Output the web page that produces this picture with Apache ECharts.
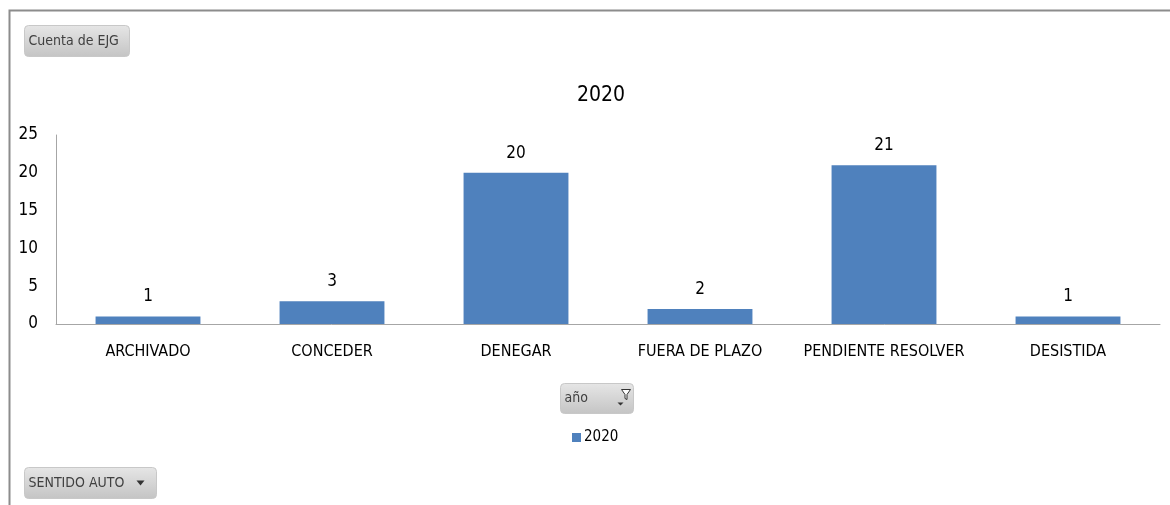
<!DOCTYPE html>
<html>
<head>
<meta charset="utf-8">
<script src="https://cdn.jsdelivr.net/npm/echarts@6/dist/echarts.min.js"></script>
<style>
  html, body { margin: 0; padding: 0; background: #fff; }
  #chart { width: 1170px; height: 505px; }
</style>
</head>
<body>
<div id="chart"></div>
<script>
// datos del gráfico
const categorias = ["ARCHIVADO", "CONCEDER", "DENEGAR", "FUERA DE PLAZO", "PENDIENTE RESOLVER", "DESISTIDA"]
const valores2020 = [1, 3, 20, 2, 21, 1]
const serieNombre = "2020"

const fuente = "'Liberation Sans Narrow', 'DejaVu Sans Condensed', 'Noto Sans', sans-serif"

// botón gris tipo tabla dinámica
const boton = (x, y, w, h, texto, extra) => ({
  type: "group",
  left: x,
  top: y,
  children: [
    {
      type: "rect",
      shape: { x: 0, y: 0, width: w, height: h, r: 4 },
      style: {
        fill: {
          type: "linear", x: 0, y: 0, x2: 0, y2: 1,
          colorStops: [
            { offset: 0, color: "#e6e6e6" },
            { offset: 1, color: "#c4c4c4" },
          ],
        },
        stroke: "#c8c8c8",
        lineWidth: 1,
      },
    },
    {
      type: "text",
      x: 4,
      y: h / 2,
      style: {
        text: texto,
        fill: "#404040",
        font: "14px " + fuente,
        verticalAlign: "middle",
      },
    },
  ].concat(extra || []),
})

const myChart = echarts.init(document.getElementById("chart"))

const option = {
  backgroundColor: "#fff",
  animation: false,
  title: {
    text: serieNombre,
    left: 596,
    top: 80,
    textAlign: "center",
    textStyle: { fontFamily: fuente, fontSize: 21, fontWeight: "normal", color: "#000" },
  },
  legend: {
    data: [serieNombre],
    left: 567,
    top: 425,
    icon: "rect",
    itemWidth: 9,
    itemHeight: 9,
    itemGap: 4,
    textStyle: { fontFamily: fuente, fontSize: 15, color: "#000", padding: [0, 0, 0, -2] },
  },
  grid: { left: 56, right: 10, top: 135, bottom: 181, containLabel: false },
  xAxis: {
    type: "category",
    data: categorias,
    axisLine: { lineStyle: { color: "#a6a6a6" } },
    axisTick: { show: false },
    axisLabel: { fontFamily: fuente, fontSize: 16, color: "#000", margin: 20, interval: 0 },
  },
  yAxis: {
    type: "value",
    min: 0,
    max: 25,
    interval: 5,
    axisLine: { show: true, lineStyle: { color: "#a6a6a6" } },
    axisTick: { show: false },
    splitLine: { show: false },
    axisLabel: { fontFamily: fuente, fontSize: 17, color: "#000", margin: 18 },
  },
  series: [
    {
      name: serieNombre,
      type: "bar",
      data: valores2020,
      barCategoryGap: "43%",
      itemStyle: { color: "#4f81bd" },
      label: {
        show: true,
        position: "top",
        distance: 11,
        fontFamily: fuente,
        fontSize: 17,
        color: "#000",
      },
    },
  ],
  graphic: [
    // marco exterior
    {
      type: "polyline",
      shape: { points: [[9.5, 505], [9.5, 10.5], [1170, 10.5]] },
      style: { stroke: "#8c8c8c", lineWidth: 2, fill: null },
    },
    boton(24, 25, 105, 31, "Cuenta de EJG"),
    boton(560, 383, 73, 30, "año", [
      {
        type: "polygon",
        shape: { points: [[57, 19], [63, 19], [60, 22]] },
        style: { fill: "#333" },
      },
      {
        type: "polygon",
        shape: { points: [[61, 6], [70, 6], [66.5, 11], [66.5, 16], [64.5, 15], [64.5, 11]] },
        style: { fill: "#fff", stroke: "#333", lineWidth: 1 },
      },
    ]),
    boton(24, 467, 132, 31, "SENTIDO AUTO", [
      {
        type: "polygon",
        shape: { points: [[112, 13], [120, 13], [116, 18]] },
        style: { fill: "#333" },
      },
    ]),
  ],
}

myChart.setOption(option)
</script>
</body>
</html>
